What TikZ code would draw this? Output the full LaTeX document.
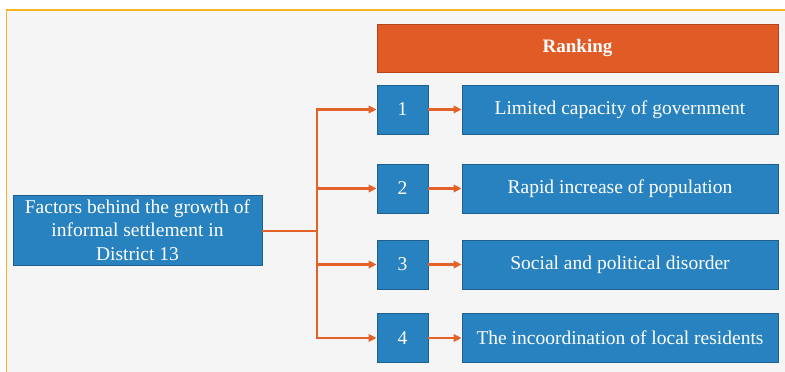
\documentclass[tikz,border=0pt]{standalone}
\usepackage{fontspec}
\setmainfont{LiberationSerif}[Extension=.ttf, UprightFont=*-Regular, BoldFont=*-Bold, ItalicFont=*-Italic, BoldItalicFont=*-BoldItalic]
\usetikzlibrary{arrows.meta}
\definecolor{bluefill}{HTML}{2882C0}
\definecolor{blueline}{HTML}{1E5F90}
\definecolor{orangefill}{HTML}{E05B26}
\definecolor{orangeline}{HTML}{B5451C}
\definecolor{arrowc}{HTML}{E2622A}
\definecolor{framec}{HTML}{F8B422}
\definecolor{bgc}{HTML}{F5F5F5}
\tikzset{
  box/.style={draw=blueline, fill=bluefill, line width=0.8pt, text=white, inner sep=0pt, align=center,
    font=\fontsize{19.5}{23.4}\selectfont},
  headbox/.style={box, draw=orangeline, fill=orangefill, font=\fontsize{19}{23.4}\selectfont\bfseries},
  arr/.style={draw=arrowc, line width=2.4pt, -{Triangle[length=8pt,width=7.5pt]}},
  ln/.style={draw=arrowc, line width=2.4pt}
}
\begin{document}
\begin{tikzpicture}[x=1pt,y=-1pt]
\useasboundingbox (0,0) rectangle (785,372);
\fill[white] (0,0) rectangle (785,372);
\fill[bgc] (6.5,10) rectangle (790,380);
\draw[framec, line width=1.5pt] (6.5,380) -- (6.5,10) -- (790,10);
\node[headbox, minimum width=401pt, minimum height=48pt] (rk) at (577.5,48) {Ranking};
\node[box, minimum width=51pt, minimum height=49pt] (n1) at (402.5,109.5) {1};
\node[box, minimum width=51pt, minimum height=49pt] (n2) at (402.5,188.5) {2};
\node[box, minimum width=51pt, minimum height=49pt] (n3) at (402.5,264.5) {3};
\node[box, minimum width=51pt, minimum height=49pt] (n4) at (402.5,338) {4};
\node[box, minimum width=316pt, minimum height=49pt] (t1) at (620,109.5) {Limited capacity of government};
\node[box, minimum width=316pt, minimum height=49pt] (t2) at (620,188.5) {Rapid increase of population};
\node[box, minimum width=316pt, minimum height=49pt] (t3) at (620,264.5) {Social and political disorder};
\node[box, minimum width=316pt, minimum height=49pt] (t4) at (620,338) {The incoordination of local residents};
\node[box, minimum width=249pt, minimum height=70pt] (src) at (137.5,230) {Factors behind the growth of\\informal settlement in\\District 13};
\coordinate (j) at (317,231);
\draw[ln] (src.east |- j) -- (j);
\draw[arr] (j) |- (n1.west);
\draw[arr] (j) |- (n2.west);
\draw[arr] (j) |- (n3.west);
\draw[arr] (j) |- (n4.west);
\draw[arr] (n1.east) -- (t1.west);
\draw[arr] (n2.east) -- (t2.west);
\draw[arr] (n3.east) -- (t3.west);
\draw[arr] (n4.east) -- (t4.west);
\end{tikzpicture}
\end{document}
